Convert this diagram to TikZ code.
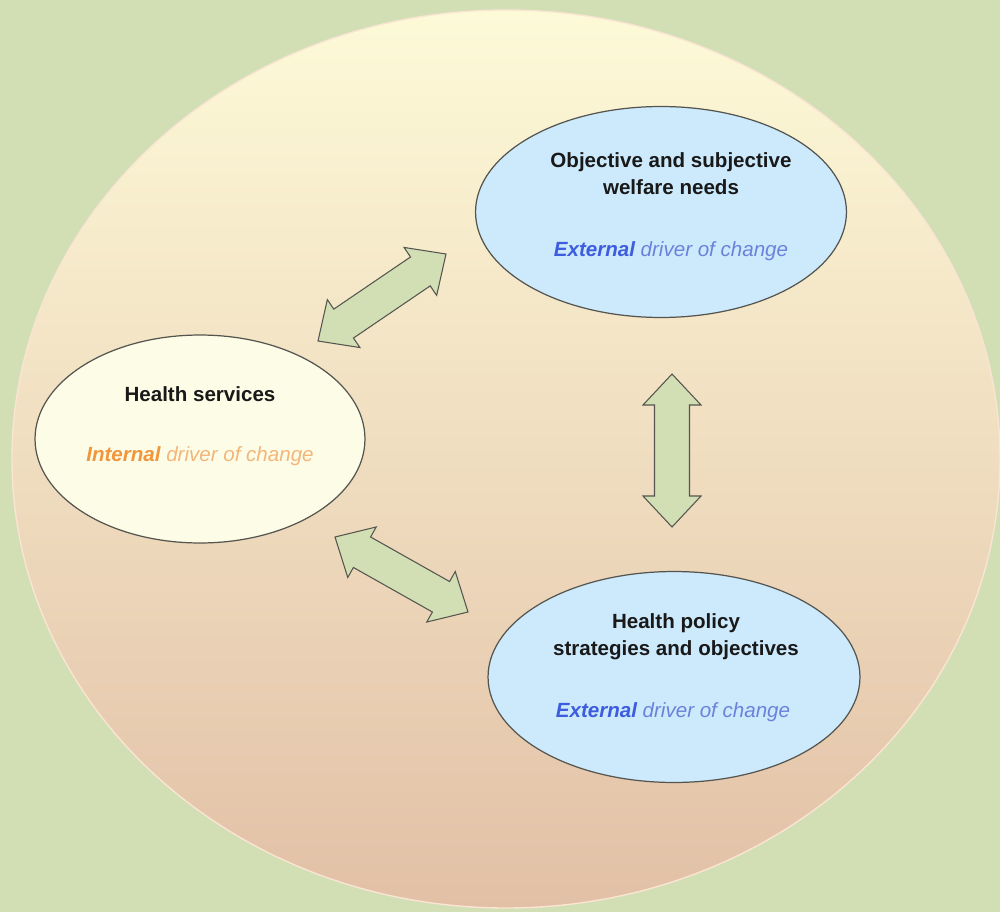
\documentclass[tikz,border=0pt]{standalone}
\usepackage{fontspec}
\setmainfont{Liberation Sans}
\usepackage{tikz}
\usetikzlibrary{shapes.geometric,calc}

\definecolor{bggreen}{RGB}{210,223,181}
\definecolor{rimpink}{RGB}{250,228,210}
\definecolor{warmtop}{RGB}{253,250,216}
\definecolor{warmmid}{RGB}{245,229,201}
\definecolor{warmbot}{RGB}{226,192,166}
\definecolor{skyfill}{RGB}{204,234,252}
\definecolor{creamfill}{RGB}{253,253,231}
\definecolor{edgegray}{RGB}{85,85,80}
\definecolor{arrowfill}{RGB}{210,222,180}
\definecolor{titleblack}{RGB}{25,25,25}
\definecolor{extblue}{RGB}{62,92,222}
\definecolor{extlight}{RGB}{108,130,218}
\definecolor{intorange}{RGB}{240,150,60}
\definecolor{intlight}{RGB}{242,182,122}

\tikzset{
	driver/.style={ellipse, draw=edgegray, line width=0.7pt, inner sep=0pt},
	titletxt/.style={font=\bfseries\fontsize{11.7}{15.3}\selectfont, text=titleblack, align=center, inner sep=0pt},
	drvtxt/.style={font=\itshape\fontsize{11.7}{15.3}\selectfont, inner sep=0pt},
	blockarrow/.style={draw=edgegray, fill=arrowfill, line width=0.6pt, line join=miter}
}

% double block arrow between two tips
\newcommand{\dblarrow}[2]{%
	\coordinate (h1) at ($(#1)!0.62cm!(#2)$);
	\coordinate (h2) at ($(#2)!0.62cm!(#1)$);
	\draw[blockarrow] (#1) -- ($(h1)!0.58cm!90:(#2)$) -- ($(h1)!0.35cm!90:(#2)$)
		-- ($(h2)!0.35cm!-90:(#1)$) -- ($(h2)!0.58cm!-90:(#1)$) -- (#2)
		-- ($(h2)!0.58cm!90:(#1)$) -- ($(h2)!0.35cm!90:(#1)$)
		-- ($(h1)!0.35cm!-90:(#2)$) -- ($(h1)!0.58cm!-90:(#2)$) -- cycle;}

\begin{document}
\begin{tikzpicture}[x=0.02cm, y=-0.02cm]
	\useasboundingbox (0,0) rectangle (1000,912);
	\fill[bggreen] (0,0) rectangle (1000,912);
	\shade[top color=warmtop, middle color=warmmid, bottom color=warmbot] (506,459) ellipse [x radius=494, y radius=449];
	\draw[rimpink, line width=0.8pt] (506,459) ellipse [x radius=494, y radius=449];
	%ellissi
	\node[driver, fill=skyfill, minimum width=7.42cm, minimum height=4.22cm] (needs) at (661,212) {};
	\node[driver, fill=creamfill, minimum width=6.6cm, minimum height=4.16cm] (services) at (200,439) {};
	\node[driver, fill=skyfill, minimum width=7.44cm, minimum height=4.22cm] (policy) at (674,677) {};
	%testi
	\node[titletxt] (needsT) at (671,174) {Objective and subjective\\welfare needs};
	\node[drvtxt] (needsD) at (671,251) {\textcolor{extblue}{\bfseries External} \textcolor{extlight}{driver of change}};
	\node[titletxt] (servicesT) at (200,394) {Health services};
	\node[drvtxt] (servicesD) at (200,456) {\textcolor{intorange}{\bfseries Internal} \textcolor{intlight}{driver of change}};
	\node[titletxt] (policyT) at (676,637) {Health policy\\strategies and objectives};
	\node[drvtxt] (policyD) at (673,712) {\textcolor{extblue}{\bfseries External} \textcolor{extlight}{driver of change}};
	%frecce
	\coordinate (a1s) at (318,341);
	\coordinate (a1e) at (446,254);
	\coordinate (a2s) at (672,374);
	\coordinate (a2e) at (672,527);
	\coordinate (a3s) at (335,537);
	\coordinate (a3e) at (468,612);
	\dblarrow{a1s}{a1e}
	\dblarrow{a2s}{a2e}
	\dblarrow{a3s}{a3e}
\end{tikzpicture}
\end{document}
